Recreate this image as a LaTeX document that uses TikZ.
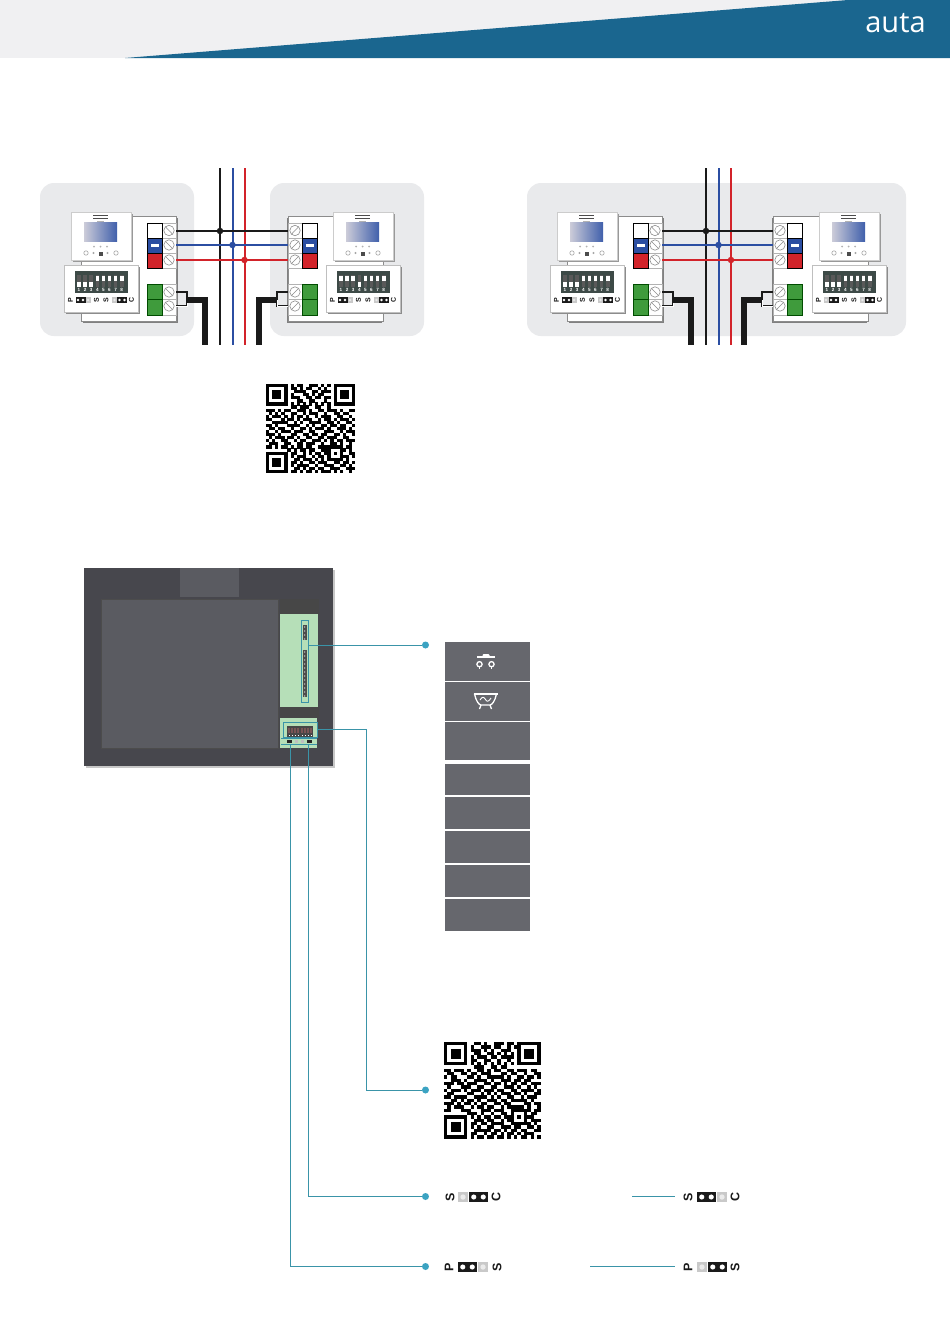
\documentclass[tikz,border=0pt]{standalone}
\usepackage{fontspec}
\setmainfont{Liberation Sans}
\newfontfamily\logofont{Open Sans}
\usetikzlibrary{calc}
\definecolor{bannerblue}{HTML}{1A668F}
\definecolor{bannergray}{HTML}{F0F0F2}
\definecolor{panelgray}{HTML}{E9EAEC}
\definecolor{wireblack}{HTML}{1A1A1A}
\definecolor{wireblue}{HTML}{2B4EA2}
\definecolor{wirered}{HTML}{D2232A}
\definecolor{termgreen}{HTML}{3F9B3C}
\definecolor{linkteal}{HTML}{3A94A8}
\definecolor{dotteal}{HTML}{3BA3C2}
\definecolor{rowgray}{HTML}{66676D}
\definecolor{modoutline}{HTML}{47474D}
\definecolor{modpanel}{HTML}{5A5B61}
\definecolor{modgreen}{HTML}{B6DFB8}
\definecolor{dipbg}{HTML}{3D4A47}
\definecolor{pingray}{HTML}{C9C9C9}
\tikzset{
  panelbox/.style={fill=panelgray,rounded corners=14pt},
  wireb/.style={draw=wireblack,line width=1.5pt},
  wirel/.style={draw=wireblue,line width=1.5pt},
  wirer/.style={draw=wirered,line width=1.5pt},
  busb/.style={draw=wireblack,line width=2pt},
  busl/.style={draw=wireblue,line width=2pt},
  busr/.style={draw=wirered,line width=2pt},
  thickwire/.style={draw=wireblack,line width=6pt,line join=miter},
  junction/.style={circle,inner sep=0pt,minimum size=6.5pt},
  telink/.style={draw=linkteal,line width=0.8pt},
  tealdot/.style={circle,fill=dotteal,inner sep=0pt,minimum size=7pt},
  iconline/.style={draw=white,line width=1.3pt},
  pinlabel/.style={font=\bfseries\fontsize{12.5}{12.5}\selectfont,rotate=90,inner sep=0pt,text=wireblack},
  smallpin/.style={font=\bfseries\fontsize{7}{7}\selectfont,rotate=90,inner sep=0pt,text=wireblack},
  dipnum/.style={font=\bfseries\fontsize{4.6}{5}\selectfont,inner sep=0pt,text=white},
}
% QR drawing
\newcount\qcol \newcount\qrow
\def\qrscan#1{\ifx#1.\else\if#11\fill[black] ({\qox+\the\qcol*\qs},{\qoy+\the\qrow*\qs}) rectangle ++(\qs+0.08,\qs+0.08);\fi\advance\qcol by 1\relax\expandafter\qrscan\fi}
\newcommand\qline[1]{\qcol=0\relax\qrscan #1.\advance\qrow by 1\relax}
% jumpers
\newcommand\jbb[4]{% x, ycentre, pin width, height
  \fill[wireblack] (#1,#2-#4/2) rectangle ++(2*#3,#4);
  \fill[white] (#1+0.5*#3,#2) circle[radius=0.27*#3];
  \fill[white] (#1+1.5*#3,#2) circle[radius=0.27*#3];}
\newcommand\jgr[4]{%
  \fill[pingray] (#1,#2-#4/2) rectangle ++(#3,#4);
  \fill[white!92!black] (#1+0.5*#3,#2) circle[radius=0.27*#3];}
% monitor
\newcommand\monitorunit[2]{%
  \begin{scope}[shift={(#2,0)}]
    \fill[black!40] (1.5,213.5) rectangle (61.5,261.5);
    \filldraw[fill=white,draw=black!20,line width=0.4pt] (0,212) rectangle (60,260);
    \shade[left color=blue!25!black!20!white,right color=wireblue!90!white] (13,222) rectangle (46,241);
    \draw[black!70,line width=0.9pt] (22,215.5) -- (37,215.5);
    \draw[black!70,line width=0.9pt] (22,218) -- (37,218);
    \draw[black!30,line width=0.5pt] (26,220.8) -- (33,220.8);
    \foreach \xa in {23,29.5,36} \fill[black!30] (\xa,246.5) circle[radius=1];
    \draw[black!35,line width=0.6pt] (15,253) circle[radius=2.2];
    \fill[black!35] (22.5,253) circle[radius=1.1];
    \fill[black!70] (27.5,252) rectangle (31.5,255.5);
    \fill[black!35] (36.5,253) circle[radius=1.1];
    \draw[black!35,line width=0.6pt] (45,253) circle[radius=2.2];
  \end{scope}}
% DIP card: prefix, x, states, first jumper (0 = bb then grey, 1 = grey then bb)
\newcommand\cardunit[4]{%
  \begin{scope}[shift={(#2,0)}]
    \fill[black!45] (1.5,266.5) rectangle (75.5,313.5);
    \filldraw[fill=white,draw=black!25,line width=0.4pt] (0,265) rectangle (74,312);
    \fill[dipbg] (11,271) rectangle (64,293);
    \foreach \st [count=\ii] in {#3} {
      \pgfmathsetmacro\xs{15+(\ii-1)*6.1}
      \fill[black!65] (\xs-1.8,275) rectangle (\xs+1.8,287);
      \ifnum\st=1
        \fill[white] (\xs-1.8,276) rectangle (\xs+1.8,281);
      \else
        \fill[white] (\xs-1.8,281.5) rectangle (\xs+1.8,286.5);
      \fi
      \node[dipnum] (#1n\ii) at (\xs,290) {\ii};
    }
    \node[smallpin] (#1p) at (6.5,300) {P};
    \ifnum#4=0
      \jbb{11.5}{300}{5}{5.5}\jgr{21.5}{300}{5}{5.5}
    \else
      \jgr{11.5}{300}{5}{5.5}\jbb{16.5}{300}{5}{5.5}
    \fi
    \node[smallpin] (#1s) at (32.5,300) {S};
    \node[smallpin] (#1t) at (42,300) {S};
    \jgr{48}{300}{5}{5.5}\jbb{53}{300}{5}{5.5}
    \node[smallpin] (#1c) at (67.5,300) {C};
  \end{scope}}
% base plate and terminals, in the coordinates of the first unit
\newcommand\screw[1]{%
  \draw[black!45,fill=white,line width=0.6pt] (169,#1) circle[radius=5.2];
  \draw[black!45,line width=0.6pt] (165.5,#1-3.6) -- (172.5,#1+3.6);}
\newcommand\plateunit[2]{%
  \begin{scope}[#2]
    \fill[black!50] (82.5,217.5) rectangle (177.5,322.5);
    \filldraw[fill=white,draw=black!45,line width=0.6pt] (81,216) rectangle (176,321);
    \foreach \ya/\yb in {223/238,238/253,253/268,284/299.5,299.5/315}
      \draw[black!30,line width=0.4pt] (162,\ya) rectangle (176,\yb);
    \filldraw[fill=white,draw=black,line width=0.8pt] (147,223) rectangle (162,238);
    \filldraw[fill=wireblue,draw=black,line width=0.8pt] (147,238) rectangle (162,253);
    \fill[white] (150.5,244) rectangle (158.5,247);
    \filldraw[fill=wirered,draw=black,line width=0.8pt] (147,253) rectangle (162,268);
    \filldraw[fill=termgreen,draw=green!30!black,line width=0.6pt] (147,284) rectangle (162,299.5);
    \filldraw[fill=termgreen,draw=green!30!black,line width=0.6pt] (147,299.5) rectangle (162,315);
    \screw{230.5}\screw{245}\screw{260}\screw{292}\screw{306}
    \coordinate (#1w1) at (176,231);
    \coordinate (#1w2) at (176,245);
    \coordinate (#1w3) at (176,260);
    \coordinate (#1g1) at (176,292);
    \coordinate (#1g2) at (176,306);
    \coordinate (#1k1) at (187,292);
    \coordinate (#1k2) at (187,306);
    \coordinate (#1m) at (187,300);
    \coordinate (#1c) at (205,300);
    \coordinate (#1e) at (205,345);
    \draw[draw=wireblack,line width=1.8pt] (#1g2) -- (#1k2) -- (#1m);
    \draw[draw=white,line width=0.8pt] (#1g2) -- (#1k2) -- (#1m);
    \draw[draw=wireblack,line width=2pt] (#1g1) -- (#1k1) -- (#1m);
    \draw[thickwire] (#1m) -- (#1c) -- (#1e);
  \end{scope}}
\begin{document}
\begin{tikzpicture}[x=1pt,y=-1pt,line cap=butt]
\useasboundingbox (0,0) rectangle (950,1344);
\fill[white] (0,0) rectangle (950,1344);
% banner
\fill[bannergray] (0,0) rectangle (950,58);
\fill[bannerblue] (125,58) -- (848,0) -- (950,0) -- (950,58) -- cycle;
\node[text=white,font=\logofont\fontsize{29}{29}\selectfont,inner sep=0pt,anchor=base] (logo) at (895.5,32) {auta};
% grey panels
\fill[panelbox] (40,183) rectangle (194,336);
\fill[panelbox] (270,183) rectangle (424,336);
\fill[panelbox] (527,183) rectangle (906,336);
% units
\plateunit{a}{shift={(0,0)}}
\plateunit{b}{shift={(464,0)},xscale=-1}
\plateunit{c}{shift={(486,0)}}
\plateunit{d}{shift={(949,0)},xscale=-1}
\cardunit{ca}{64}{0,0,0,1,1,1,1,1}{0}
\cardunit{cb}{326}{1,1,1,0,1,1,1,1}{0}
\cardunit{cc}{550}{0,0,0,1,1,1,1,1}{0}
\cardunit{cd}{812}{0,0,0,1,1,1,1,1}{1}
\monitorunit{ma}{71}
\monitorunit{mb}{333}
\monitorunit{mc}{557}
\monitorunit{md}{819}
% buses
\coordinate (bus1t) at (220,168); \coordinate (bus1b) at (220,345);
\coordinate (bus2t) at (233,168); \coordinate (bus2b) at (233,345);
\coordinate (bus3t) at (245,168); \coordinate (bus3b) at (245,345);
\coordinate (bus4t) at (706,168); \coordinate (bus4b) at (706,345);
\coordinate (bus5t) at (719,168); \coordinate (bus5b) at (719,345);
\coordinate (bus6t) at (731,168); \coordinate (bus6b) at (731,345);
\draw[busb] (bus1t) -- (bus1b);
\draw[busl] (bus2t) -- (bus2b);
\draw[busr] (bus3t) -- (bus3b);
\draw[busb] (bus4t) -- (bus4b);
\draw[busl] (bus5t) -- (bus5b);
\draw[busr] (bus6t) -- (bus6b);
\draw[wireb] (aw1) -- (bw1); \draw[wirel] (aw2) -- (bw2); \draw[wirer] (aw3) -- (bw3);
\draw[wireb] (cw1) -- (dw1); \draw[wirel] (cw2) -- (dw2); \draw[wirer] (cw3) -- (dw3);
\node[junction,fill=wireblack] (j1) at (220,231) {};
\node[junction,fill=wireblue] (j2) at (232.5,245) {};
\node[junction,fill=wirered] (j3) at (244.5,260) {};
\node[junction,fill=wireblack] (j4) at (706,231) {};
\node[junction,fill=wireblue] (j5) at (718.5,245) {};
\node[junction,fill=wirered] (j6) at (731,260) {};
% first QR
\def\qox{266}\def\qoy{384}\def\qs{3.07}\qrow=0
\qline{1111111 010110011101010 1111111}
\qline{1000001 011010110010100 1000001}
\qline{1011101 001111001101110 1011101}
\qline{1011101 010001101011000 1011101}
\qline{1011101 011100110110110 1011101}
\qline{1000001 000110011000100 1000001}
\qline{1111111 010101010101010 1111111}
\qline{0000000 011011100110010 0000000}
\qline{1110101 100111010 0110111 010011}
\qline{0101010 011001011 1001001 101100}
\qline{1011101 010110100 1011100 110010}
\qline{1100010 110101110 0101101 011101}
\qline{0011111 001010011 1100110 100110}
\qline{1101000 111100101 0011011 011001}
\qline{0110110 010011010 1110100 111010}
\qline{1001011 101110011 0001110 010111}
\qline{1110100 011001101 1011001 101001}
\qline{0101110 110100110 0110111 001100}
\qline{1010011 001011001 1101010 110111}
\qline{0111001 100110111 0010011 010010}
\qline{1101011 010110110 0111 11111 0110}
\qline{0000000 101011011 0011 10001 1010}
\qline{1111111 011001010 1101 10101 0011}
\qline{1000001 010111001 0110 10001 1101}
\qline{1011101 001101110 1010 11111 0100}
\qline{1011101 011010011 0111 001101101}
\qline{1011101 010111100 1001 110011010}
\qline{1000001 001101011 0110 011100111}
\qline{1111111 011010110 1011 101010010}
% module
\fill[black!22] (86,570) rectangle (335,768);
\fill[modoutline] (84,568) rectangle (333,766);
\fill[modpanel] (180,568) rectangle (239,597);
\filldraw[fill=modpanel,draw=black!70,line width=0.5pt] (101,599) rectangle (278,748);
\fill[black!72] (280,599) rectangle (319,614);
\fill[modgreen] (280,614) rectangle (318,707);
\fill[black!72] (280,707) rectangle (319,718);
\fill[modgreen] (280,718) rectangle (317,748);
\draw[telink] (301,620) rectangle (308,702);
\fill[black!70] (303,625) rectangle (306.5,640);
\fill[black!70] (303,650) rectangle (306.5,697);
\foreach \yy in {627,631,635,639,652,656,660,664,668,672,676,680,684,688,692,696}
  \fill[white] (304.7,\yy) circle[radius=0.6];
\draw[telink] (283,722) rectangle (317,737);
\fill[black!72] (287,726) rectangle (313,737);
\foreach \xx in {289,292,295,298,302,305,308,311} {
  \fill[wirered!30!black!70!white] (\xx-0.8,728) rectangle (\xx+0.8,733);
  \fill[white] (\xx-0.4,735) rectangle (\xx+0.4,736.2);
}
\draw[telink] (281,738.5) -- (317,738.5);
\draw[telink,line width=0.5pt] (281,744) -- (317,744);
\fill[black!85] (286.5,739.8) rectangle (291.5,743);
\fill[black!85] (307,739.8) rectangle (312,743);
\fill[black!25] (295,739.8) rectangle (298,743);
\fill[black!25] (301,739.8) rectangle (304,743);
\coordinate (src1) at (308,645);
\coordinate (src2) at (317,729);
\coordinate (src3) at (308.5,745);
\coordinate (src4) at (290.5,745);
\coordinate (bend2) at (366,1090);
\node[tealdot] (d1) at (425.5,645) {};
\node[tealdot] (d2) at (425.5,1090) {};
\node[tealdot] (d3) at (425.5,1196.5) {};
\node[tealdot] (d4) at (425.5,1266.5) {};
\draw[telink] (src1) -- (d1);
\draw[telink] (src2) -| (bend2) -- (d2);
\draw[telink] (src3) |- (d3);
\draw[telink] (src4) |- (d4);
% table
\fill[rowgray] (445,642) rectangle (530,681);
\fill[rowgray] (445,682) rectangle (530,720.5);
\fill[rowgray] (445,721.5) rectangle (530,760);
\fill[rowgray] (445,763.5) rectangle (530,795);
\fill[rowgray] (445,796.5) rectangle (530,829);
\fill[rowgray] (445,830.5) rectangle (530,863);
\fill[rowgray] (445,864.5) rectangle (530,897);
\fill[rowgray] (445,898.5) rectangle (530,931);
% icon 1
\fill[white] (477,656.2) rectangle (495,658.2);
\fill[white,rounded corners=1pt] (482.5,654) rectangle (489.5,657);
\draw[iconline] (479.5,664.2) circle[radius=2.6];
\draw[iconline] (491.5,664.2) circle[radius=2.6];
\draw[iconline] (479.5,666.8) -- (479.5,669);
\draw[iconline] (491.5,666.8) -- (491.5,669);
% icon 2
\draw[iconline] (473.5,694) -- (497.5,694);
\draw[iconline] (474.5,694) .. controls (476,701) and (479,705) .. (481,705) -- (490,705) .. controls (492,705) and (495,701) .. (496.5,694);
\draw[iconline] (481,705) -- (479.5,709);
\draw[iconline] (490,705) -- (491.5,709);
\draw[draw=white,line width=0.9pt] (480,700) .. controls (482.5,696) and (484,697) .. (485.5,699.5) .. controls (487,702) and (488.5,702) .. (491,698);
% second QR
\def\qox{444}\def\qoy{1042}\def\qs{3.33}\qrow=0
\qline{1111111 001101001110110 1111111}
\qline{1000001 010011101100101 1000001}
\qline{1011101 011101010011100 1011101}
\qline{1011101 001100110101010 1011101}
\qline{1011101 010111011011110 1011101}
\qline{1000001 011001100100100 1000001}
\qline{1111111 010101010101010 1111111}
\qline{0000000 001110011011000 0000000}
\qline{1101110 100110101 1001101 110110}
\qline{0110011 011011100 0110110 010011}
\qline{1011000 110100111 1101001 101101}
\qline{0011101 001111010 0111011 011000}
\qline{1110110 111001101 1010110 110111}
\qline{0100011 100110011 0011101 001010}
\qline{1011101 011101110 1100110 111101}
\qline{0110000 110010101 0111011 010011}
\qline{1101111 001111010 1001100 101110}
\qline{0011010 110100111 0110111 110100}
\qline{1110101 101011001 1011000 011011}
\qline{0101110 010110110 0101111 101001}
\qline{1100011 100011101 1100 11111 1011}
\qline{0000000 111010010 0110 10001 0110}
\qline{1111111 010101101 1011 10101 1100}
\qline{1000001 001110110 0101 10001 0111}
\qline{1011101 011011011 1100 11111 1010}
\qline{1011101 010100110 0111 011001101}
\qline{1011101 001111101 1010 110110011}
\qline{1000001 011001011 0101 101011100}
\qline{1111111 010110110 1101 010110101}
% jumper legends
\node[pinlabel] (l1) at (450,1197) {S};
\jgr{458}{1197}{10}{9.5}\jbb{469}{1197}{9.5}{9.5}
\node[pinlabel] (l2) at (496,1197) {C};
\node[pinlabel] (l3) at (688,1197) {S};
\jbb{697}{1197}{9.5}{9.5}\jgr{717}{1197}{10}{9.5}
\node[pinlabel] (l4) at (735,1197) {C};
\node[pinlabel] (l5) at (449,1267) {P};
\jbb{458}{1267}{9.5}{9.5}\jgr{478}{1267}{10}{9.5}
\node[pinlabel] (l6) at (497,1267) {S};
\node[pinlabel] (l7) at (688,1267) {P};
\jgr{697}{1267}{10}{9.5}\jbb{708}{1267}{9.5}{9.5}
\node[pinlabel] (l8) at (735,1267) {S};
\coordinate (m1a) at (632,1196.5); \coordinate (m1b) at (675,1196.5);
\coordinate (m2a) at (590,1266.5); \coordinate (m2b) at (675,1266.5);
\draw[telink] (m1a) -- (m1b);
\draw[telink] (m2a) -- (m2b);
\end{tikzpicture}
\end{document}
